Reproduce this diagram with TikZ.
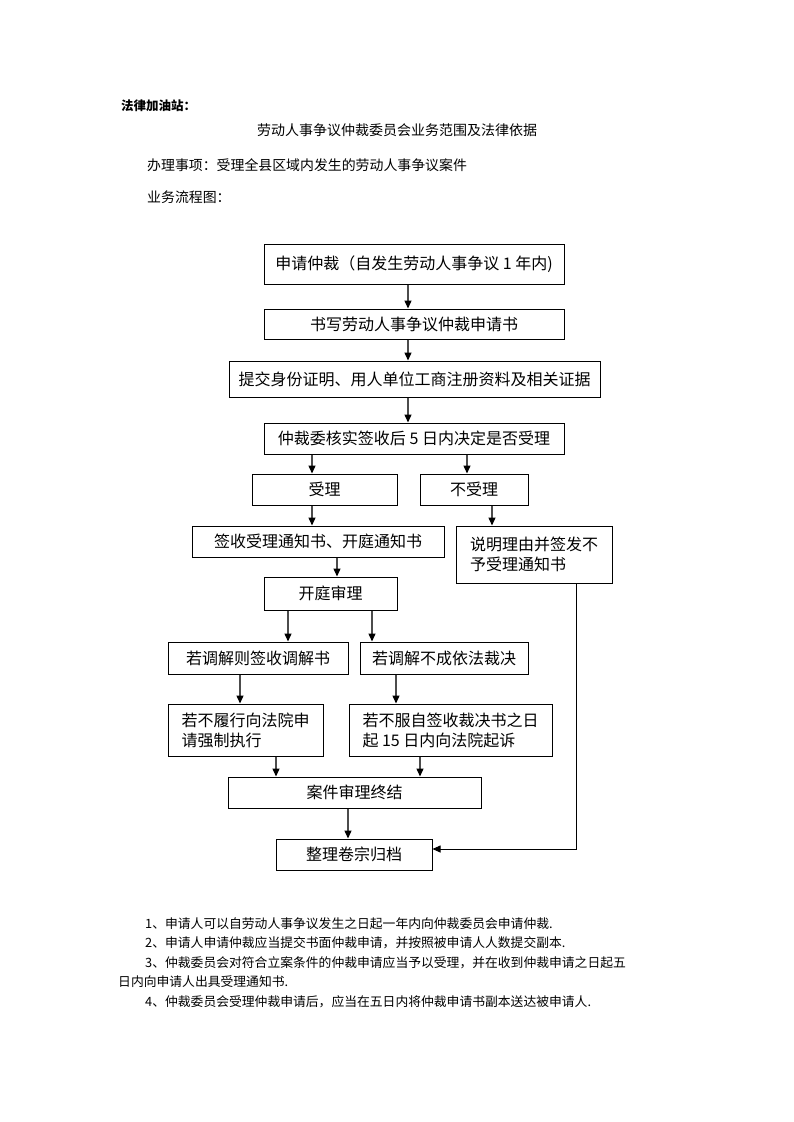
\documentclass[tikz,border=0pt]{standalone}
\usepackage{fontspec}
\setmainfont{Noto Sans CJK SC}
\usetikzlibrary{arrows.meta}
\begin{document}
\begin{tikzpicture}[x=1pt,y=-1pt,
  box/.style={draw=black,line width=1pt,inner sep=0pt,font=\fontsize{16}{20}\selectfont},
  arr/.style={draw=black!70,line width=1.4pt,-{Triangle[length=8pt,width=7pt,fill=black,color=black]}},
  thinarr/.style={draw=black,line width=0.9pt,-{Triangle[length=8pt,width=7pt,fill=black,color=black]}},
  body/.style={anchor=west,inner sep=0pt,font=\fontsize{12.8}{15}\selectfont}]
\fill[white] (0,0) rectangle (793,1122);
\useasboundingbox (0,0) rectangle (793,1122);
% header texts
\node[anchor=west,inner sep=0pt,font=\fontsize{12.5}{15}\selectfont\bfseries] (hd) at (121,106) {法律加油站：};
\node[anchor=west,inner sep=0pt,font=\fontsize{14}{16}\selectfont] (tt) at (257,130) {劳动人事争议仲裁委员会业务范围及法律依据};
\node[anchor=west,inner sep=0pt,font=\fontsize{13.9}{16}\selectfont] (bl) at (147,165) {办理事项：受理全县区域内发生的劳动人事争议案件};
\node[anchor=west,inner sep=0pt,font=\fontsize{13.9}{16}\selectfont] (fl) at (147,197) {业务流程图：};
% boxes
\node[box,minimum width=300pt,minimum height=40pt] (b1) at (414,264) {申请仲裁（自发生劳动人事争议 1 年内)};
\node[box,minimum width=300pt,minimum height=30pt] (b2) at (414,324) {书写劳动人事争议仲裁申请书};
\node[box,minimum width=371pt,minimum height=36pt] (b3) at (414.5,379) {提交身份证明、用人单位工商注册资料及相关证据};
\node[box,minimum width=300pt,minimum height=31pt] (b4) at (414,438.5) {仲裁委核实签收后 5 日内决定是否受理};
\node[box,minimum width=145pt,minimum height=31pt] (a1) at (324.5,489.5) {受理};
\node[box,minimum width=108pt,minimum height=31pt] (n1) at (474,489.5) {不受理};
\node[box,minimum width=252pt,minimum height=31pt] (s1) at (318,541.5) {签收受理通知书、开庭通知书};
\node[box,minimum width=156pt,minimum height=57pt,align=left] (n2) at (534,554.5) {说明理由并签发不\\予受理通知书};
\node[box,minimum width=133pt,minimum height=33pt] (t1) at (330.5,593.5) {开庭审理};
\node[box,minimum width=180pt,minimum height=32pt] (m1) at (258,658) {若调解则签收调解书};
\node[box,minimum width=168pt,minimum height=32pt] (m2) at (444,658) {若调解不成依法裁决};
\node[box,minimum width=155pt,minimum height=52pt,align=left] (e1) at (245.5,730) {若不履行向法院申\\请强制执行};
\node[box,minimum width=203pt,minimum height=52pt,align=left] (e2) at (450.5,730) {若不服自签收裁决书之日\\起 15 日内向法院起诉};
\node[box,minimum width=253pt,minimum height=31pt] (en) at (354.5,792.5) {案件审理终结};
\node[box,minimum width=156pt,minimum height=31pt] (ar) at (354,854.5) {整理卷宗归档};
% guide coordinates
\coordinate (x408) at (408,0);
\coordinate (x312) at (312,0);
\coordinate (x467) at (467,0);
\coordinate (x492) at (492,0);
\coordinate (x337) at (337,0);
\coordinate (x288) at (288,0);
\coordinate (x372) at (372,0);
\coordinate (x240) at (240,0);
\coordinate (x396) at (396,0);
\coordinate (x276) at (276,0);
\coordinate (x420) at (420,0);
\coordinate (x348) at (348,0);
\coordinate (c576) at (576,849);
% arrows
\draw[arr] (b1.south -| x408) -- (b2.north -| x408);
\draw[arr] (b2.south -| x408) -- (b3.north -| x408);
\draw[arr] (b3.south -| x408) -- (b4.north -| x408);
\draw[arr] (b4.south -| x312) -- (a1.north -| x312);
\draw[arr] (b4.south -| x467) -- (n1.north -| x467);
\draw[arr] (a1.south -| x312) -- (s1.north -| x312);
\draw[arr] (n1.south -| x492) -- (n2.north -| x492);
\draw[arr] (s1.south -| x337) -- (t1.north -| x337);
\draw[arr] (t1.south -| x288) -- (m1.north -| x288);
\draw[arr] (t1.south -| x372) -- (m2.north -| x372);
\draw[arr] (m1.south -| x240) -- (e1.north -| x240);
\draw[arr] (m2.south -| x396) -- (e2.north -| x396);
\draw[arr] (e1.south -| x276) -- (en.north -| x276);
\draw[arr] (e2.south -| x420) -- (en.north -| x420);
\draw[arr] (en.south -| x348) -- (ar.north -| x348);
\draw[thinarr] (n2.south -| c576) -- (c576) -- (ar.east |- c576);
% notes
\node[body] (l1) at (145,924) {1、申请人可以自劳动人事争议发生之日起一年内向仲裁委员会申请仲裁.};
\node[body] (l2) at (145,943) {2、申请人申请仲裁应当提交书面仲裁申请，并按照被申请人人数提交副本.};
\node[body] (l3) at (145,963) {3、仲裁委员会对符合立案条件的仲裁申请应当予以受理，并在收到仲裁申请之日起五};
\node[body] (l4) at (118,982) {日内向申请人出具受理通知书.};
\node[body] (l5) at (145,1002) {4、仲裁委员会受理仲裁申请后，应当在五日内将仲裁申请书副本送达被申请人.};
\end{tikzpicture}
\end{document}
